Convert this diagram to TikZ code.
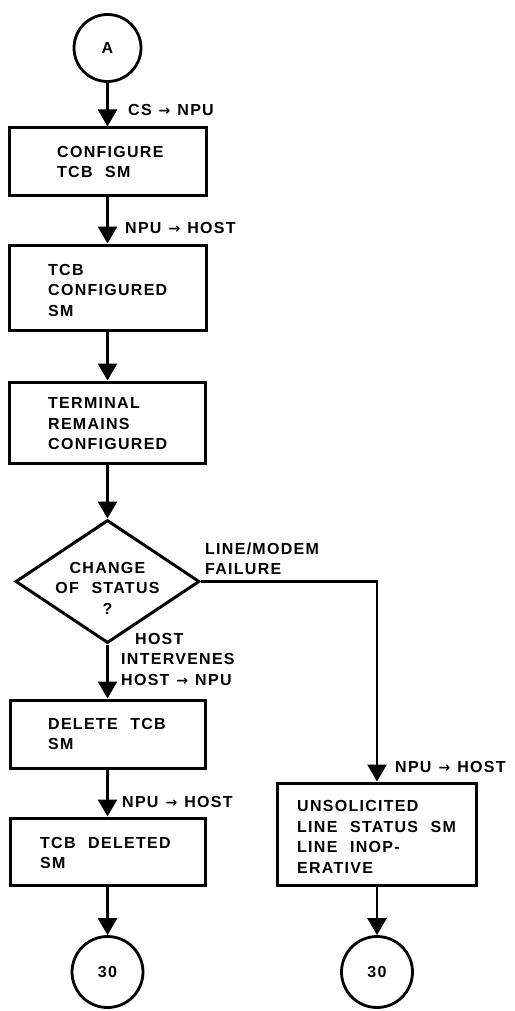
\documentclass[tikz,border=0pt]{standalone}
\usepackage{fontspec}
\setmainfont{Liberation Sans}[LetterSpace=8,WordSpace=2.2]
\newfontfamily\arrowfont{DejaVu Sans}
\usetikzlibrary{arrows.meta,shapes.geometric}
\newcommand{\rarr}{\hspace{7pt}{\arrowfont\fontsize{14}{14}\selectfont →}\hspace{7pt}}
\begin{document}
\begin{tikzpicture}[x=1pt,y=-1pt,
  every node/.style={font=\fontsize{16}{20.5}\selectfont\bfseries},
  boxnode/.style={draw,rectangle,line width=3pt,inner sep=0pt},
  conn/.style={draw,circle,line width=2.8pt,inner sep=0pt,minimum size=#1},
  txt/.style={align=left,inner sep=0pt,anchor=west},
  lbl/.style={align=left,inner sep=0pt,anchor=west},
  arr/.style={line width=2.8pt,-{Triangle[length=17pt,width=19pt]}}]
\useasboundingbox (0,0) rectangle (514,1011);
% nodes
\node[conn=67pt] (A) at (107.5,48) {A};
\node[boxnode,minimum width=197pt,minimum height=67pt] (b1) at (107.5,161.5) {};
\node[boxnode,minimum width=197pt,minimum height=85pt] (b2) at (107.5,287.5) {};
\node[boxnode,minimum width=196pt,minimum height=81pt] (b3) at (107.5,422.5) {};
\node[draw,diamond,line width=3pt,inner sep=0pt,minimum width=184pt,minimum height=123pt] (d) at (107.5,581.5) {};
\node[boxnode,minimum width=195pt,minimum height=68pt] (b4) at (107.5,734) {};
\node[boxnode,minimum width=195pt,minimum height=67pt] (b5) at (107.5,851.5) {};
\node[boxnode,minimum width=199pt,minimum height=102pt] (b6) at (377,834) {};
\node[conn=71pt] (c1) at (107.5,972) {30};
\node[conn=71pt] (c2) at (377,972) {30};
% texts in boxes
\node[txt] (t1) at (57,162) {CONFIGURE\\TCB SM};
\node[txt] (t2) at (48,290) {TCB\\CONFIGURED\\SM};
\node[txt] (t3) at (48,424) {TERMINAL\\REMAINS\\CONFIGURED};
\node[align=center,inner sep=0pt] (dt) at (107.5,588) {CHANGE\\OF STATUS\\?};
\node[txt] (t4) at (48,734) {DELETE TCB\\SM};
\node[txt] (t5) at (40,853) {TCB DELETED\\SM};
\node[txt] (t6) at (297,837) {UNSOLICITED\\LINE STATUS SM\\LINE INOP-\\ERATIVE};
% labels
\node[lbl] (l1) at (128,110) {CS\rarr NPU};
\node[lbl] (l2) at (125,228) {NPU\rarr HOST};
\node[lbl] (l3) at (205,559) {LINE/MODEM\\FAILURE};
\node[lbl] (l4) at (121,659) {\hspace*{14pt}HOST\\INTERVENES\\HOST\rarr NPU};
\node[lbl] (l5) at (122,802) {NPU\rarr HOST};
\node[lbl] (l6) at (395,767) {NPU\rarr HOST};
% connectors
\draw[arr] (A) -- (b1);
\draw[arr] (b1) -- (b2);
\draw[arr] (b2) -- (b3);
\draw[arr] (b3) -- (d);
\draw[arr] (d) -- (b4);
\draw[arr] (b4) -- (b5);
\draw[arr] (b5) -- (c1);
\draw[arr] (d.east) -| (b6.north);
\draw[arr] (b6) -- (c2);
\end{tikzpicture}
\end{document}
